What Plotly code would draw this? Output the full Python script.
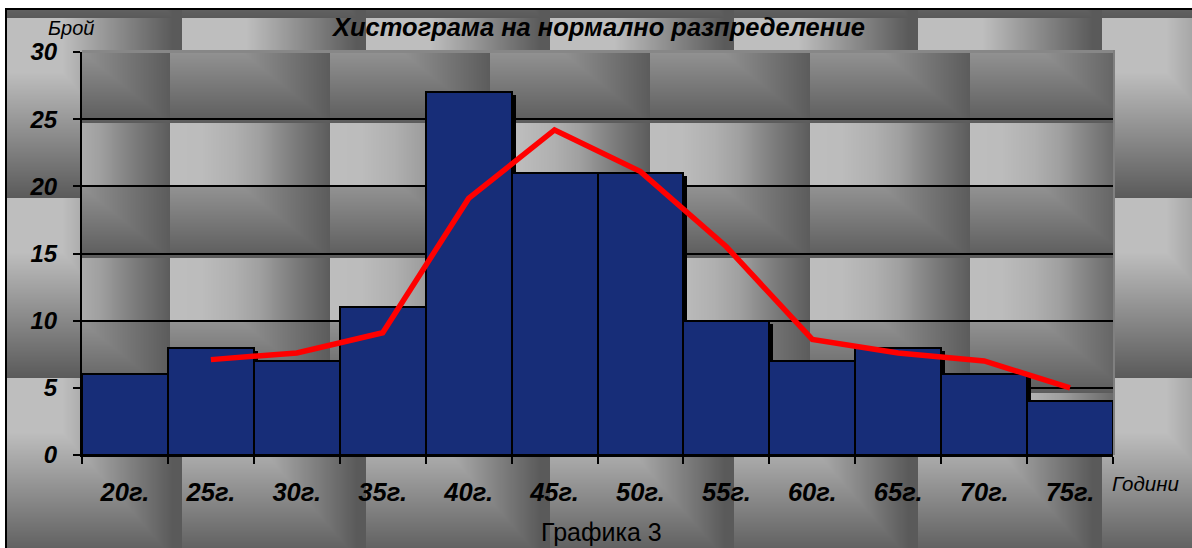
import base64
import struct
import zlib

import numpy as np
import plotly.graph_objects as go

# ---- data -------------------------------------------------------------
categories = ["20г.", "25г.", "30г.", "35г.", "40г.", "45г.",
              "50г.", "55г.", "60г.", "65г.", "70г.", "75г."]
counts = [6, 8, 7, 11, 27, 21, 21, 10, 7, 8, 6, 4]

curve_categories = ["25г.", "30г.", "35г.", "40г.", "45г.", "50г.",
                    "55г.", "60г.", "65г.", "70г.", "75г."]
curve_values = [7.1, 7.6, 9.1, 19.1, 24.2, 21.1, 15.5, 8.6, 7.6, 7.0, 5.0]

y_ticks = [0, 5, 10, 15, 20, 25, 30]

title_text = "Хистограма на нормално разпределение"
y_title = "Брой"
x_title = "Години"
caption = "Графика 3"

# ---- geometry / style -------------------------------------------------
W, H = 1192, 548
PL, PR, PT, PB = 82, 1113, 52, 455          # plot area in pixels
FONT = "Liberation Sans, Arial, sans-serif"
NAVY = "#172D78"
SHADOW_DX = 4 / ((PR - PL) / len(categories))   # in category units
SHADOW_DY = 3 / ((PB - PT) / 30)                # in value units


def gray_png(arr):
    """Encode a 2-D uint8 array as a grayscale PNG data URI."""
    h, w = arr.shape
    raw = b"".join(b"\x00" + arr[r].tobytes() for r in range(h))

    def chunk(tag, data):
        body = tag + data
        return (struct.pack(">I", len(data)) + body
                + struct.pack(">I", zlib.crc32(body) & 0xFFFFFFFF))

    png = (b"\x89PNG\r\n\x1a\n"
           + chunk(b"IHDR", struct.pack(">IIBBBBB", w, h, 8, 0, 0, 0, 0))
           + chunk(b"IDAT", zlib.compress(raw, 9))
           + chunk(b"IEND", b""))
    return "data:image/png;base64," + base64.b64encode(png).decode()


def woven_background():
    yy, xx = np.mgrid[0:H, 0:W].astype(float)

    # outer chart-area weave: tiles 184 x 180, light top-left, dark right/bottom
    lx = ((xx + 2) % 184) / 184
    ly = ((yy - 18) % 180) / 180
    sx = np.clip((lx - 0.35) / 0.6, 0, 1)
    sy = np.clip((ly - 0.3) / 0.7, 0, 1)
    img = 190 - 100 * np.maximum(sx, sy)

    # plot-area weave: 160 px columns, alternating dark / light rows
    ix = ((xx - 10) % 160) / 160
    ry = (yy - PT) % 135
    dark_row = ry < 71
    v_dark = np.minimum(146 - 54 * np.clip(ry / 71, 0, 1),
                        np.interp(ix, [0, 0.45, 1], [146, 146, 92]))
    v_light = np.interp(ix, [0, 0.2, 0.4, 0.56, 0.75, 1],
                        [190, 188, 176, 160, 128, 92])
    inner = np.where(dark_row, v_dark, v_light)
    in_plot = (xx >= PL) & (xx < PR) & (yy >= PT) & (yy < PB)
    img = np.where(in_plot, inner, img)

    # thin grey frame of the plot area (top and right)
    img[PT - 2:PT, PL:PR + 2] = 135
    img[PT - 2:PB, PR:PR + 2] = 128

    # white surround and black chart frame
    img[:8, :] = 255
    img[:, :5] = 255
    img[8:10, 5:] = 0
    img[8:, 5:7] = 0
    return gray_png(np.clip(img, 0, 255).astype(np.uint8))


def px_x(px):
    return (px - PL) / (PR - PL)


def px_y(py):
    return (PB - py) / (PB - PT)


fig = go.Figure()

# drop shadow behind each bar
fig.add_bar(
    x=categories, y=counts, base=-SHADOW_DY, width=1,
    offset=-0.5 + SHADOW_DX,
    marker=dict(color="black", line=dict(width=0)),
    hoverinfo="skip",
)
# histogram bars
fig.add_bar(
    x=categories, y=counts, width=1,
    marker=dict(color=NAVY, line=dict(color="black", width=2)),
)
# fitted normal curve
fig.add_scatter(
    x=curve_categories, y=curve_values, mode="lines",
    line=dict(color="#ff0000", width=5.5),
)

tick_font = dict(family=FONT, color="black", weight="bold", style="italic")

fig.update_layout(
    width=W, height=H,
    margin=dict(l=PL, r=W - PR, t=PT, b=H - PB, pad=0),
    paper_bgcolor="white",
    plot_bgcolor="rgba(0,0,0,0)",
    barmode="overlay",
    bargap=0,
    showlegend=False,
    images=[dict(
        source=woven_background(),
        xref="paper", yref="paper",
        x=px_x(0), y=px_y(0),
        sizex=W / (PR - PL), sizey=H / (PB - PT),
        xanchor="left", yanchor="top",
        sizing="stretch", layer="below",
    )],
    shapes=[dict(
        type="line", xref="x domain", yref="y",
        x0=0, x1=1, y0=30, y1=30,
        line=dict(color="#878787", width=2), layer="above",
    )],
    annotations=[
        dict(text=title_text, x=px_x(598), y=px_y(27),
             font=dict(family=FONT, size=25.5, color="black",
                       weight="bold", style="italic")),
        dict(text=y_title, x=px_x(71), y=px_y(28),
             font=dict(family=FONT, size=20, color="black", style="italic")),
        dict(text=x_title, x=px_x(1145), y=px_y(483),
             font=dict(family=FONT, size=20.5, color="black", style="italic")),
        dict(text=caption, x=px_x(601), y=px_y(532),
             font=dict(family=FONT, size=25, color="black")),
    ],
)
for a in fig.layout.annotations:
    a.update(xref="paper", yref="paper", xanchor="center", yanchor="middle",
             showarrow=False)

fig.update_xaxes(
    type="category", range=[-0.5, len(categories) - 0.5],
    tickson="boundaries", ticks="outside", ticklen=7, tickwidth=2,
    tickcolor="black", showline=True, linecolor="black", linewidth=2,
    showgrid=False, zeroline=False,
    tickfont=dict(size=25.5, **tick_font), ticklabelstandoff=13,
)
fig.update_yaxes(
    range=[0, 30], tickvals=y_ticks, ticks="outside", ticklen=7,
    tickwidth=2, tickcolor="black", showline=True, linecolor="black",
    linewidth=2, showgrid=True, gridcolor="black", gridwidth=2,
    zeroline=False, tickfont=dict(size=24, **tick_font),
    ticklabelstandoff=11,
)

fig.write_html("out.html")
